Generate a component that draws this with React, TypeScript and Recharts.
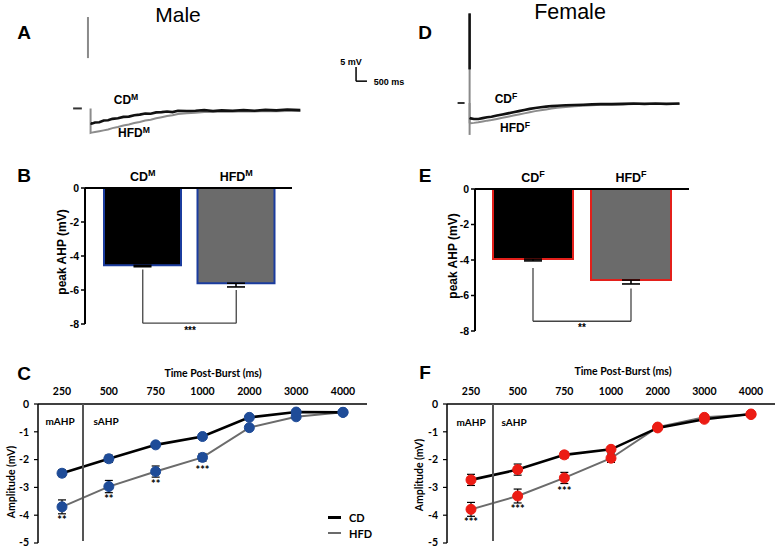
import React from 'react'
import { LineChart, Line, BarChart, Bar, Cell, XAxis, YAxis, ErrorBar, ReferenceLine, LabelList } from 'recharts'

const ARIAL = '"Liberation Sans", Arial, sans-serif'
const CALIBRI = 'Lato, "Liberation Sans", sans-serif'

// A / D traces: ms after the burst, mV relative to baseline
const traceTime = [0, 50, 200, 400, 600, 800, 1000, 1250, 1500, 1750, 2000, 2250, 2500, 2750, 3000, 3250, 3500, 3750, 4000, 4400, 4800, 5200, 5600, 6000, 6500, 7000, 7500, 8000, 8500, 9000, 9600]
const maleCDTrace = [-5.2, -5.4, -5.0, -4.9, -4.3, -4.2, -3.7, -3.5, -3.0, -2.9, -2.4, -2.2, -1.8, -1.9, -1.4, -1.3, -1.1, -1.3, -0.8, -0.9, -0.8, -0.6, -0.9, -0.7, -0.8, -0.6, -0.8, -0.5, -0.7, -0.4, -0.6]
const maleHFDTrace = [-8.7, -8.6, -8.4, -8.1, -7.8, -7.5, -7.0, -6.6, -6.1, -5.7, -5.2, -4.8, -4.3, -4.0, -3.5, -3.1, -2.7, -2.4, -2.0, -1.7, -1.5, -1.3, -1.3, -1.1, -1.2, -1.0, -1.1, -0.9, -1.0, -0.9, -0.9]
const femaleCDTrace = [-5.3, -5.5, -5.7, -5.7, -5.4, -5.1, -4.9, -4.5, -4.1, -3.7, -3.3, -2.9, -2.5, -2.1, -1.8, -1.5, -1.3, -1.1, -1.0, -0.8, -0.7, -0.6, -0.5, -0.4, -0.4, -0.3, -0.2, -0.3, -0.2, -0.3, -0.2]
const femaleHFDTrace = [-7.0, -7.2, -7.1, -6.9, -6.6, -6.3, -6.1, -5.7, -5.3, -4.9, -4.5, -4.1, -3.7, -3.3, -2.9, -2.6, -2.3, -2.0, -1.7, -1.4, -1.2, -1.0, -0.8, -0.6, -0.6, -0.5, -0.4, -0.4, -0.4, -0.4, -0.4]
const maleSpike = [32.5, 17.9]
const femaleSpike = [32, -11.4]
const femaleSpikeDark = [32, 12]
const scaleBar = { ms: 500, mv: 5, t: 12150, v: 9.7 }

// B / E peak AHP
const barGroups = ['CD', 'HFD']
const maleBarMean = [-4.55, -5.6]
const maleBarErr = [0.08, 0.22]
const femaleBarMean = [-3.95, -5.13]
const femaleBarErr = [0.1, 0.22]
const maleBracket = [-4.8, -6.0, -7.95]
const femaleBracket = [-4.45, -5.6, -7.45]

// C / F amplitude over time
const timeLabels = ['250', '500', '750', '1000', '2000', '3000', '4000']
const maleCD = [-2.49, -1.97, -1.47, -1.17, -0.48, -0.29, -0.3]
const maleCDErr = [0.12, 0.13, 0.07, 0.07, 0.05, 0.04, 0.03]
const maleHFD = [-3.7, -2.97, -2.43, -1.92, -0.85, -0.46, -0.3]
const maleHFDErr = [0.25, 0.22, 0.2, 0.14, 0.06, 0.05, 0.04]
const maleSig = ['**', '**', '**', '***', '', '', '']
const femaleCD = [-2.73, -2.36, -1.83, -1.63, -0.86, -0.55, -0.36]
const femaleCDErr = [0.2, 0.2, 0.12, 0.1, 0.07, 0.08, 0.1]
const femaleHFD = [-3.79, -3.31, -2.66, -1.95, -0.83, -0.48, -0.38]
const femaleHFDErr = [0.25, 0.25, 0.2, 0.15, 0.07, 0.08, 0.1]
const femaleSig = ['***', '***', '***', '', '', '', '']

const BLUE_EDGE = '#1b3c9e'
const RED_EDGE = '#e3201b'
const BLUE_DOT = '#1f4c98'
const RED_DOT = '#ec1c14'
const HFD_GRAY = '#6b6b6b'

const Txt = ({ x, y, size = 11, bold = true, font = ARIAL, rotate = 0, align = 'center', children }: any) => (
  <div
    style={{
      position: 'absolute', left: x, top: y, whiteSpace: 'nowrap', lineHeight: 1, color: '#000',
      fontSize: size, fontWeight: bold ? 'bold' : 'normal', fontFamily: font,
      transform: `translate(${align === 'left' ? '0' : '-50%'},-50%)${rotate ? ` rotate(${rotate}deg)` : ''}`,
    }}
  >
    {children}
  </div>
)

const Sup = ({ children }: any) => <sup style={{ fontSize: '0.72em', verticalAlign: '0.45em', lineHeight: 0 }}>{children}</sup>

const toRows = (vals: number[]) => traceTime.map((t, i) => ({ t, v: vals[i] }))

function TracePanel({ left, top, width, height, xDomain, yDomain, cd, hfd, spike, spikeDark, stub, withScale }: any) {
  const spikeRows = spike.map((v: number) => ({ t: stub.spikeAt, v }))
  const darkRows = spikeDark ? spikeDark.map((v: number) => ({ t: stub.spikeAt, v })) : null
  const stubRows = stub.range.map((t: number) => ({ t, v: 0 }))
  return (
    <div style={{ position: 'absolute', left, top }}>
      <LineChart width={width} height={height} margin={{ top: 0, right: 0, bottom: 0, left: 0 }}>
        <XAxis dataKey="t" type="number" domain={xDomain} hide allowDataOverflow />
        <YAxis dataKey="v" type="number" domain={yDomain} hide allowDataOverflow />
        <Line data={stubRows} dataKey="v" stroke="#333" strokeWidth={2} dot={false} isAnimationActive={false} />
        <Line data={spikeRows} dataKey="v" stroke="#8a8a8a" strokeWidth={2} dot={false} isAnimationActive={false} />
        {darkRows && <Line data={darkRows} dataKey="v" stroke="#111" strokeWidth={2.5} dot={false} isAnimationActive={false} />}
        <Line data={[{ t: 0, v: 0 }, ...toRows(hfd)]} dataKey="v" stroke="#8c8c8c" strokeWidth={2} dot={false} isAnimationActive={false} />
        <Line data={toRows(cd)} dataKey="v" stroke="#111" strokeWidth={2.6} dot={false} isAnimationActive={false} />
        {withScale && (
          <ReferenceLine
            segment={[{ x: scaleBar.t, y: scaleBar.v + scaleBar.mv }, { x: scaleBar.t, y: scaleBar.v }]}
            stroke="#000" strokeWidth={1.5}
          />
        )}
        {withScale && (
          <ReferenceLine
            segment={[{ x: scaleBar.t, y: scaleBar.v }, { x: scaleBar.t + scaleBar.ms, y: scaleBar.v }]}
            stroke="#000" strokeWidth={1.5}
          />
        )}
      </LineChart>
    </div>
  )
}

function BarPanel({ left, top, width, height, margin, mean, err, bracket, edge, sup, padding, barSize }: any) {
  const rows = barGroups.map((name, i) => ({ name, mean: mean[i], err: [err[i], 0] }))
  const fills = ['#000000', '#6b6b6b']
  const tick = (p: any) => (
    <text x={p.x} y={p.y} textAnchor="middle" fontFamily={ARIAL} fontWeight="bold" fontSize={12.5} fill="#000">
      {p.payload.value}
      <tspan dy={-5} fontSize={9}>{sup}</tspan>
    </text>
  )
  return (
    <div style={{ position: 'absolute', left, top }}>
      <BarChart width={width} height={height} data={rows} margin={margin}>
        <XAxis dataKey="name" orientation="top" height={22} padding={padding} axisLine={{ stroke: '#000', strokeWidth: 2 }}
          tickLine={false} tickSize={0} tickMargin={7} tick={tick} />
        <YAxis domain={[-8, 0]} ticks={[0, -2, -4, -6, -8]} width={30} axisLine={{ stroke: '#000', strokeWidth: 2 }}
          tickLine={{ stroke: '#000', strokeWidth: 1.5 }} tickSize={4} tickMargin={2}
          tick={{ fill: '#000', fontSize: 10.5, fontWeight: 'bold', fontFamily: ARIAL }} />
        <Bar dataKey="mean" barSize={barSize} stroke={edge} strokeWidth={2} isAnimationActive={false}>
          {rows.map((r, i) => <Cell key={r.name} fill={fills[i]} />)}
          <ErrorBar dataKey="err" width={9} stroke="#000" strokeWidth={1.6} direction="y" />
        </Bar>
        <ReferenceLine segment={[{ x: 'CD', y: bracket[0] }, { x: 'CD', y: bracket[2] }]} stroke="#444" strokeWidth={1.3} />
        <ReferenceLine segment={[{ x: 'CD', y: bracket[2] }, { x: 'HFD', y: bracket[2] }]} stroke="#444" strokeWidth={1.3} />
        <ReferenceLine segment={[{ x: 'HFD', y: bracket[1] }, { x: 'HFD', y: bracket[2] }]} stroke="#444" strokeWidth={1.3} />
      </BarChart>
    </div>
  )
}

function TimePanel({ left, top, width, height, margin, cd, cdErr, hfd, hfdErr, sig, dot }: any) {
  const rows = timeLabels.map((time, i) => ({ time, cd: cd[i], cdErr: cdErr[i], hfd: hfd[i], hfdErr: hfdErr[i], sig: sig[i] }))
  const dotStyle = { r: 5, fill: dot, stroke: dot, strokeWidth: 1 }
  return (
    <div style={{ position: 'absolute', left, top }}>
      <LineChart width={width} height={height} data={rows} margin={margin}>
        <XAxis dataKey="time" orientation="top" height={30} padding={{ left: 24, right: 24 }} interval={0}
          axisLine={{ stroke: '#000', strokeWidth: 1.5 }} tickLine={false} tickSize={4} tickMargin={5}
          tick={{ fill: '#000', fontSize: 10.5, fontWeight: 'bold', fontFamily: CALIBRI }} />
        <YAxis domain={[-5, 0]} ticks={[0, -1, -2, -3, -4, -5]} width={26} axisLine={{ stroke: '#000', strokeWidth: 1.5 }}
          tickLine={{ stroke: '#000', strokeWidth: 1.2 }} tickSize={4} tickMargin={5}
          tick={{ fill: '#000', fontSize: 10.5, fontWeight: 'bold', fontFamily: CALIBRI }} />
        <Line dataKey="hfd" stroke={HFD_GRAY} strokeWidth={2} dot={dotStyle} isAnimationActive={false}>
          <ErrorBar dataKey="hfdErr" width={4} stroke="#000" strokeWidth={1.2} direction="y" />
          <LabelList dataKey="sig" position="bottom" offset={9}
            style={{ fontSize: 11, fontWeight: 'bold', fill: '#000', fontFamily: CALIBRI }} />
        </Line>
        <Line dataKey="cd" stroke="#000" strokeWidth={2.6} dot={dotStyle} isAnimationActive={false}>
          <ErrorBar dataKey="cdErr" width={4} stroke="#000" strokeWidth={1.2} direction="y" />
        </Line>
      </LineChart>
    </div>
  )
}

const VLine = ({ x, y1, y2 }: any) => (
  <div style={{ position: 'absolute', left: x - 0.75, top: y1, width: 1.5, height: y2 - y1, background: '#555' }} />
)

export default function App() {
  return (
    <div style={{ position: 'absolute', left: 0, top: 0, width: 778, height: 550, background: '#fff', overflow: 'hidden' }}>
      {/* traces */}
      <TracePanel left={60} top={10} width={319} height={135} xDomain={[-1400, 13200]} yDomain={[-13, 35]}
        cd={maleCDTrace} hfd={maleHFDTrace} spike={maleSpike} stub={{ spikeAt: -120, range: [-800, -400] }} withScale />
      <TracePanel left={439} top={5} width={258} height={140} xDomain={[-1400, 10400]} yDomain={[-15, 35]}
        cd={femaleCDTrace} hfd={femaleHFDTrace} spike={femaleSpike} spikeDark={femaleSpikeDark}
        stub={{ spikeAt: 0, range: [-550, -230] }} />

      {/* bars */}
      <BarPanel left={0} top={160} width={300} height={175} margin={{ top: 6, right: 8, bottom: 11, left: 55 }}
        mean={maleBarMean} err={maleBarErr} bracket={maleBracket} edge={BLUE_EDGE} sup="M"
        padding={{ left: 11, right: 9 }} barSize={77} />
      <BarPanel left={400} top={160} width={300} height={180} margin={{ top: 7, right: 11, bottom: 9, left: 45 }}
        mean={femaleBarMean} err={femaleBarErr} bracket={femaleBracket} edge={RED_EDGE} sup="F"
        padding={{ left: 9, right: 9 }} barSize={80} />

      {/* time courses */}
      <TimePanel left={0} top={355} width={380} height={193} margin={{ top: 19, right: 13, bottom: 5, left: 12 }}
        cd={maleCD} cdErr={maleCDErr} hfd={maleHFD} hfdErr={maleHFDErr} sig={maleSig} dot={BLUE_DOT} />
      <TimePanel left={400} top={355} width={378} height={193} margin={{ top: 19, right: 3, bottom: 5, left: 21 }}
        cd={femaleCD} cdErr={femaleCDErr} hfd={femaleHFD} hfdErr={femaleHFDErr} sig={femaleSig} dot={RED_DOT} />
      <VLine x={83} y1={404} y2={541} />
      <VLine x={493} y1={404} y2={541} />

      {/* titles and labels */}
      <Txt x={178} y={14} size={21} bold={false}>Male</Txt>
      <Txt x={570} y={13} size={21.5} bold={false}>Female</Txt>
      <Txt x={24} y={32} size={19}>A</Txt>
      <Txt x={425} y={32} size={19}>D</Txt>
      <Txt x={24} y={175} size={19}>B</Txt>
      <Txt x={425} y={175} size={19}>E</Txt>
      <Txt x={24} y={373} size={19}>C</Txt>
      <Txt x={425} y={372} size={19}>F</Txt>

      <Txt x={126} y={100} size={12}>CD<Sup>M</Sup></Txt>
      <Txt x={134} y={133} size={12}>HFD<Sup>M</Sup></Txt>
      <Txt x={506} y={99} size={12}>CD<Sup>F</Sup></Txt>
      <Txt x={515} y={128} size={12}>HFD<Sup>F</Sup></Txt>
      <Txt x={351} y={62} size={9}>5 mV</Txt>
      <Txt x={389} y={82} size={9}>500 ms</Txt>

      <Txt x={62} y={252} size={12} rotate={-90}>peak AHP (mV)</Txt>
      <Txt x={453} y={256} size={12} rotate={-90}>peak AHP (mV)</Txt>
      <Txt x={190} y={331} size={10}>***</Txt>
      <Txt x={582} y={328} size={10}>**</Txt>

      <Txt x={213} y={373} size={10.5} font={CALIBRI}>Time Post-Burst (ms)</Txt>
      <Txt x={623} y={371} size={10.5} font={CALIBRI}>Time Post-Burst (ms)</Txt>
      <Txt x={11} y={482} size={10.5} font={CALIBRI} rotate={-90}>Amplitude (mV)</Txt>
      <Txt x={419} y={475} size={10.5} font={CALIBRI} rotate={-90}>Amplitude (mV)</Txt>
      <Txt x={60} y={421} size={10} font={CALIBRI}>mAHP</Txt>
      <Txt x={106} y={421} size={10} font={CALIBRI}>sAHP</Txt>
      <Txt x={471} y={422} size={10} font={CALIBRI}>mAHP</Txt>
      <Txt x={514} y={422} size={10} font={CALIBRI}>sAHP</Txt>

      {/* legend of C */}
      <div style={{ position: 'absolute', left: 328, top: 516, width: 13, height: 3, background: '#000' }} />
      <div style={{ position: 'absolute', left: 328, top: 532, width: 13, height: 2, background: HFD_GRAY }} />
      <Txt x={349} y={517} size={11} font={CALIBRI} align="left">CD</Txt>
      <Txt x={349} y={533} size={11} font={CALIBRI} align="left">HFD</Txt>
    </div>
  )
}
